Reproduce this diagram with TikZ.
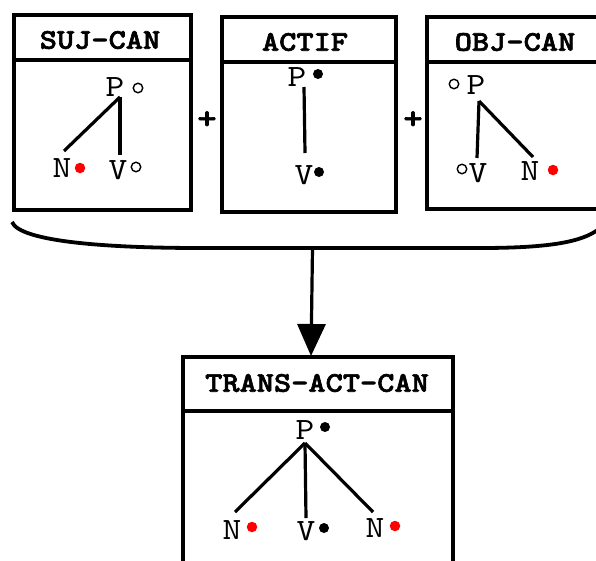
\documentclass[tikz,border=0pt]{standalone}
\usepackage{fontspec}
\newfontfamily\monofont{lmmono10-regular.otf}[FakeStretch=1.15]
\newfontfamily\headfont{lmmonolt10-bold.otf}[FakeStretch=1.15, FakeBold=2.2]
\usetikzlibrary{arrows.meta}

\tikzset{
  frame/.style={line width=3.8pt},
  boxtitle/.style={font=\headfont\fontsize{28.5}{28.5}\selectfont, inner sep=0pt},
  lab/.style={font=\monofont\fontsize{31}{31}\selectfont, inner sep=0pt},
  plus/.style={font=\headfont\fontsize{32}{32}\selectfont, inner sep=0pt},
  branch/.style={line width=3.2pt},
  opendot/.style={circle, draw, line width=1.4pt, inner sep=0pt, minimum size=9.5pt},
  reddot/.style={circle, fill=red, inner sep=0pt, minimum size=10.5pt},
  blackdot/.style={circle, fill=black, inner sep=0pt, minimum size=10pt},
  brace/.style={line width=3.8pt},
  result/.style={line width=3.2pt, -{Triangle[length=32pt,width=28pt]}}
}

\begin{document}
\begin{tikzpicture}[x=1pt, y=-1pt]
  \useasboundingbox (0,0) rectangle (596,560);
  \clip (0,0) rectangle (596,560);

  % ---- SUJ-CAN ----
  \draw[frame] (14,15) rectangle (191,210);
  \draw[frame] (14,60) -- (191,60);
  \node[boxtitle] (t1) at (100,40) {SUJ-CAN};
  \node[lab] (s-P) at (115,87) {P};
  \node[opendot] (s-Pm) at (138,88) {};
  \node[lab] (s-N) at (62,168) {N};
  \node[reddot] (s-Nm) at (80,168) {};
  \node[lab] (s-V) at (118,170) {V};
  \node[opendot] (s-Vm) at (136,167) {};
  \coordinate (s-top) at (120,97);
  \coordinate (s-n) at (64,151);
  \coordinate (s-v) at (120,155);
  \draw[branch] (s-top) -- (s-n);
  \draw[branch] (s-top) -- (s-v);

  \node[plus] (p1) at (207,120) {+};

  % ---- ACTIF ----
  \draw[frame] (222,17) rectangle (396,212);
  \draw[frame] (222,62) -- (396,62);
  \node[boxtitle] (t2) at (305,42) {ACTIF};
  \node[lab] (a-P) at (297,77) {P};
  \node[blackdot] (a-Pm) at (318,74) {};
  \node[lab] (a-V) at (304,175) {V};
  \node[blackdot] (a-Vm) at (319,172) {};
  \coordinate (a-top) at (304,87);
  \coordinate (a-v) at (305,153);
  \draw[branch] (a-top) -- (a-v);

  \node[plus] (p2) at (413,120) {+};

  % ---- OBJ-CAN ----
  \draw[frame] (427,17) rectangle (603,209);
  \draw[frame] (427,62) -- (603,62);
  \node[boxtitle] (t3) at (515,42) {OBJ-CAN};
  \node[lab] (o-P) at (476,85) {P};
  \node[opendot] (o-Pm) at (454,84) {};
  \node[lab] (o-V) at (478,173) {V};
  \node[opendot] (o-Vm) at (462,169) {};
  \node[lab] (o-N) at (530,171) {N};
  \node[reddot] (o-Nm) at (553,170) {};
  \coordinate (o-top) at (479,101);
  \coordinate (o-v) at (477,158);
  \coordinate (o-n) at (533,157);
  \draw[branch] (o-top) -- (o-v);
  \draw[branch] (o-top) -- (o-n);

  % ---- brace gathering the three boxes ----
  \coordinate (br-l) at (12,222);
  \coordinate (br-r) at (606,222);
  \coordinate (join) at (312.5,248);
  \draw[brace] (br-l) .. controls (20,242) and (110,248) .. (200,248)
    -- (480,248) .. controls (560,248) and (592,240) .. (br-r);

  % ---- TRANS-ACT-CAN ----
  \coordinate (into) at (311,356);
  \draw[result] (join) -- (into);
  \draw[frame] (183,357) rectangle (453,600);
  \draw[frame] (183,411) -- (453,411);
  \node[boxtitle] (t4) at (317,383) {TRANS-ACT-CAN};
  \node[lab] (r-P) at (305,430) {P};
  \node[blackdot] (r-Pm) at (325,427) {};
  \node[lab] (r-N1) at (232,530) {N};
  \node[reddot] (r-N1m) at (252,527) {};
  \node[lab] (r-V) at (306,531) {V};
  \node[blackdot] (r-Vm) at (324,528) {};
  \node[lab] (r-N2) at (375,528) {N};
  \node[reddot] (r-N2m) at (395,526) {};
  \coordinate (r-top) at (305,443);
  \coordinate (r-n1) at (235,512);
  \coordinate (r-v) at (306,518);
  \coordinate (r-n2) at (373,512);
  \draw[branch] (r-top) -- (r-n1);
  \draw[branch] (r-top) -- (r-v);
  \draw[branch] (r-top) -- (r-n2);
\end{tikzpicture}
\end{document}
